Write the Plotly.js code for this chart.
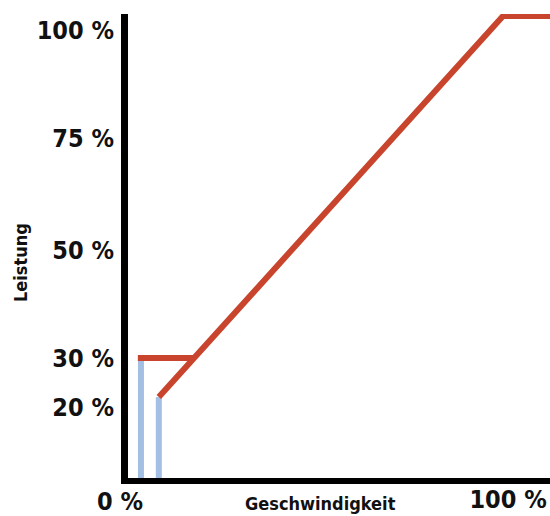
<!DOCTYPE html>
<html>
<head>
<meta charset="utf-8">
<script src="https://cdn.plot.ly/plotly-3.0.1.min.js"></script>
<style>html,body{margin:0;padding:0;background:#fff;}#chart{width:550px;height:516px;}</style>
</head>
<body>
<div id="chart"></div>
<script>
// Schematic: Leistung (power, %) vs. Geschwindigkeit (speed, %)
const rampSpeed = [10, 98.7, 115];
const rampPower = [22, 100, 100];
const minSpeed = [4.6, 18.9];
const minPower = [30, 30];
const startSpeeds = [5.4, 10];
const startPowers = [30, 22];
const yTickVals = [97, 75, 52, 30, 20];
const yTickText = ['100 %', '75 %', '50 %', '30 %', '20 %'];
const xTickVals = [100];
const xTickText = ['100 %'];

const RED = '#C8442C';
const BLUE = '#A4BFE4';
const FAMILY = '"DejaVu Sans Condensed", "DejaVu Sans", Arial, sans-serif';
const FONT = {family: FAMILY, size: 25, color: '#111', weight: 700};
const SMALL = {family: FAMILY, size: 18, color: '#111', weight: 700};

const blueX = [], blueY = [];
startSpeeds.forEach((s, i) => { blueX.push(s, s, null); blueY.push(0, startPowers[i], null); });

const traces = [
  {x: blueX, y: blueY, mode: 'lines', line: {color: BLUE, width: 6}, hoverinfo: 'skip'},
  {x: minSpeed, y: minPower, mode: 'lines', line: {color: RED, width: 6}, hoverinfo: 'skip'},
  {x: rampSpeed, y: rampPower, mode: 'lines', line: {color: RED, width: 6}, hoverinfo: 'skip'}
];

const layout = {
  width: 550, height: 516,
  margin: {l: 128, r: 0, t: 14, b: 38},
  paper_bgcolor: '#fff', plot_bgcolor: '#fff',
  showlegend: false,
  font: FONT,
  xaxis: {
    range: [2.06, 110.8], showgrid: false, zeroline: false,
    showline: true, linecolor: '#000', linewidth: 6,
    tickmode: 'array', tickvals: xTickVals, ticktext: xTickText,
    ticks: '', tickfont: FONT, ticklabelstandoff: -6, fixedrange: true
  },
  yaxis: {
    range: [5.44, 100.41], showgrid: false, zeroline: false,
    showline: true, linecolor: '#000', linewidth: 7,
    tickmode: 'array', tickvals: yTickVals, ticktext: yTickText,
    ticks: '', tickfont: FONT, ticklabelstandoff: 2, fixedrange: true
  },
  annotations: [
    {text: '0 %', xref: 'paper', yref: 'paper', x: -0.019, y: -0.050, xanchor: 'center', yanchor: 'middle', showarrow: false, font: FONT},
    {text: 'Geschwindigkeit', xref: 'paper', yref: 'paper', x: 0.457, y: -0.054, xanchor: 'center', yanchor: 'middle', showarrow: false, font: SMALL},
    {text: 'Leistung', xref: 'paper', yref: 'paper', x: -0.256, y: 0.4655, xanchor: 'center', yanchor: 'middle', textangle: -90, showarrow: false, font: SMALL}
  ]
};

Plotly.newPlot('chart', traces, layout, {displayModeBar: false, staticPlot: true});
</script>
</body>
</html>
